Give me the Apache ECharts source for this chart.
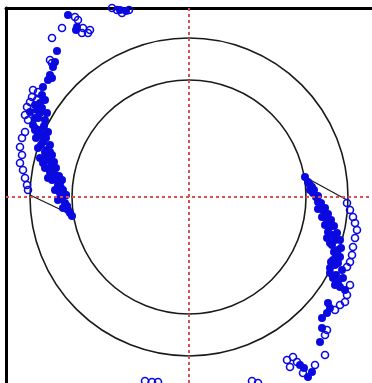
<!DOCTYPE html>
<html><head><meta charset="utf-8">
<script src="https://cdn.jsdelivr.net/npm/echarts@6/dist/echarts.min.js"></script>
<style>html,body{margin:0;padding:0;background:#fff}#c{width:372px;height:383px}</style>
</head><body><div id="c"></div>
<script>
// Reference circles (radius in data units)
const circleRadii = [159, 117];
// Connecting segments between outer and inner circle
const segLeft = [[-159, 2], [-117, -18]];
const segRight = [[116, 20], [158, -3]];
// Filled points
const filledPts = [
 [-121,182],[-113,167],[-112,170],[-69,187],[-63,186],[-132,146],[-134,135],[-136,130],[-139,122],[-141,117],[-137,119],
 [-146,110],[-149,94],[-152,87],[-142,84],[-154,92],[-147,89],[-159,85],[-151,79],[-144,77],[-156,72],[-149,67],[-141,65],
 [-153,59],[-146,55],[-139,52],[-151,49],[-144,45],[-149,39],[-141,37],[-137,32],[-147,62],[-154,67],[-142,47],[-137,42],
 [-144,29],[-139,25],[-134,22],[-133,29],[-137,17],[-141,19],[-131,12],[-127,17],[-134,7],[-129,4],[-127,-1],[-131,-3],[-123,2],
 [-124,-6],[-126,-11],[-121,-13],[-119,-16],[-117,-19],
 [-154,69],[-145,71],[-151,62],[-143,59],[-148,52],[-142,40],[-146,34],[-140,29],[-136,27],[-133,19],[-129,14],[-126,7],
 [-123,2],[-122,-9],[-147,102],[-144,97],[-149,84],[-154,79],[-139,45],[-135,35],[-130,21],[-128,9],
 [116,20],[119,15],[123,10],[124,4],[127,0],[121,7],[129,-5],[131,-9],[134,-13],[129,-12],[136,-18],[138,-23],[133,-20],
 [141,-30],[139,-35],[136,-28],[144,-38],[146,-43],[143,-48],[149,-53],[147,-58],[144,-63],[149,-66],[141,-71],[151,-60],
 [141,-76],[144,-81],[149,-85],[154,-81],[151,-90],[156,-93],[146,-88],[139,-106],[141,-111],[138,-116],[133,-121],
 [133,-131],[131,-145],[111,-168],[119,-180],[123,-175],[115,-171],
 [121,12],[125,7],[129,1],[132,-6],[136,-11],[139,-17],[142,-23],[145,-29],[148,-36],[151,-43],[152,-51],[150,-60],
 [146,-68],[147,-78],[153,-73],[142,-65],[138,-41],[141,-46],[145,-55]
];
// Open points
const openPts = [
 [-127,169],[-114,180],[-111,177],[-106,169],[-101,164],[-99,167],[-107,164],[-137,159],[-139,137],[-137,134],
 [-156,107],[-151,105],[-157,100],[-152,97],[-162,90],[-159,95],[-164,82],[-161,77],[-164,65],[-167,59],[-169,50],
 [-167,42],[-169,34],[-166,27],[-164,19],[-162,12],[-161,7],[-72,187],[-67,184],[-60,187],[-77,189],
 [158,-6],[161,-13],[164,-20],[166,-26],[168,-33],[166,-41],[164,-50],[163,-58],[161,-65],[158,-70],[161,-88],
 [158,-98],[156,-105],[151,-108],[146,-113],[138,-133],[136,-138],[136,-158],[98,-163],[104,-160],[101,-170],
 [108,-165],[114,-176],[126,-168],[63,-184],[69,-186],[-44,-184],[-37,-185],[-31,-185]
];
const xRange = [-183, 183];
const yRange = [-186, 189];

const chart = echarts.init(document.getElementById('c'), null, {renderer:'canvas'});
const blue = '#0a0ae0';
chart.setOption({
  animation:false,
  backgroundColor:'#fff',
  grid:{left:6, top:8, right:0, bottom:0},
  xAxis:{type:'value', min:xRange[0], max:xRange[1], position:'top',
    axisLine:{show:true, onZero:false, lineStyle:{color:'#000', width:3}},
    axisTick:{show:false}, axisLabel:{show:false}, splitLine:{show:false}},
  yAxis:{type:'value', min:yRange[0], max:yRange[1], position:'left',
    axisLine:{show:true, onZero:false, lineStyle:{color:'#000', width:3}},
    axisTick:{show:false}, axisLabel:{show:false}, splitLine:{show:false}},
  series:[
    {type:'custom', data: circleRadii.map(r=>[0,0,r]), silent:true, z:1,
     renderItem:function(params, api){
       const c = api.coord([api.value(0), api.value(1)]);
       const r = api.size([api.value(2), 0])[0];
       return {type:'circle', shape:{cx:c[0], cy:c[1], r:r},
         style:{fill:null, stroke:'#1a1a1a', lineWidth:1.6}};
     }},
    {type:'line', data:segLeft, symbol:'none', lineStyle:{color:'#1a1a1a', width:1.3}, z:1, silent:true},
    {type:'line', data:segRight, symbol:'none', lineStyle:{color:'#1a1a1a', width:1.3}, z:1, silent:true,
     markLine:{silent:true, symbol:'none', label:{show:false},
       lineStyle:{color:'#d85050', width:2, type:[3,3]},
       data:[{xAxis:0},{yAxis:0}]}},
    {type:'scatter', data:openPts, symbol:'circle', symbolSize:7, z:3,
     itemStyle:{color:'rgba(255,255,255,0)', borderColor:blue, borderWidth:1.6, opacity:1}},
    {type:'scatter', data:filledPts, symbol:'circle', symbolSize:8, z:4,
     itemStyle:{color:blue, opacity:1}}
  ]
});
</script></body></html>
